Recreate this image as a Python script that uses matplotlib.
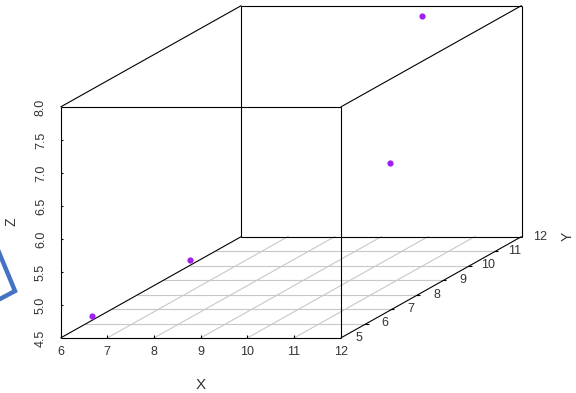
import matplotlib
matplotlib.use('Agg')
import numpy as np
import matplotlib.pyplot as plt
from matplotlib.lines import Line2D

# data
x_vals = [6.0, 6.0, 12.0, 10.0]
y_vals = [6.22, 10.0, 6.91, 11.76]
z_vals = [4.565, 4.58, 6.73, 7.89]

x_ticks = [6, 7, 8, 9, 10, 11, 12]
y_ticks = [5, 6, 7, 8, 9, 10, 11, 12]
z_ticks = [4.5, 5.0, 5.5, 6.0, 6.5, 7.0, 7.5, 8.0]

xmin, xmax = 6, 12
ymin, ymax = 5, 12
zmin, zmax = 4.5, 8.0

W, H = 576, 393
# pixel scale of the front face
px_x = 280.2 / 6
px_z = 231.0 / 3.5
# oblique shift per y unit (in pixels)
dx_y = 181.0 / 7
dz_y = 101.5 / 7


def proj(x, y, z):
    X = x + (y - ymin) * dx_y / px_x
    Z = z + (y - ymin) * dz_y / px_z
    return X, Z


fig = plt.figure(figsize=(W / 100, H / 100), dpi=100)
ax = fig.add_axes([0, 0, 1, 1])
ax.set_xlim(xmin - 60.5 / px_x, xmin + (W - 60.5) / px_x)
ax.set_ylim(zmin - (H - 338) / px_z, zmin + 338 / px_z)
ax.axis('off')

font = ['Liberation Sans Narrow', 'Liberation Sans', 'DejaVu Sans']
col_txt = '#333333'


def seg(p, q, **kw):
    a = proj(*p)
    b = proj(*q)
    ax.plot([a[0], b[0]], [a[1], b[1]], **kw)


box = dict(color='black', lw=0.8, solid_capstyle='butt')
grid = dict(color='#c8c8c8', lw=0.8)

# floor grid
for yy in y_ticks[1:-1]:
    seg((xmin, yy, zmin), (xmax, yy, zmin), **grid)
for xx in x_ticks[1:-1]:
    seg((xx, ymin, zmin), (xx, ymax, zmin), **grid)

# box
seg((xmin, ymin, zmin), (xmax, ymin, zmin), **box)
seg((xmin, ymin, zmax), (xmax, ymin, zmax), **box)
seg((xmin, ymin, zmin), (xmin, ymin, zmax), **box)
seg((xmax, ymin, zmin), (xmax, ymin, zmax), **box)
seg((xmin, ymax, zmin), (xmax, ymax, zmin), **box)
seg((xmin, ymax, zmax), (xmax, ymax, zmax), **box)
seg((xmin, ymax, zmin), (xmin, ymax, zmax), **box)
seg((xmax, ymax, zmin), (xmax, ymax, zmax), **box)
seg((xmin, ymin, zmin), (xmin, ymax, zmin), **box)
seg((xmax, ymin, zmin), (xmax, ymax, zmin), **box)
seg((xmin, ymin, zmax), (xmin, ymax, zmax), **box)
seg((xmax, ymin, zmax), (xmax, ymax, zmax), **box)

# ticks
tk = 3.0
for xx in x_ticks[1:-1]:
    seg((xx, ymin, zmin), (xx, ymin, zmin + tk / px_z), **box)
for zz in z_ticks[1:-1]:
    seg((xmin, ymin, zz), (xmin + tk / px_x, ymin, zz), **box)
for yy in y_ticks[1:-1]:
    seg((xmax - 2 / px_x, yy, zmin), (xmax + 2 / px_x, yy, zmin), **box)

# tick labels
for xx in x_ticks:
    X, Z = proj(xx, ymin, zmin)
    ax.text(X, Z - 14 / px_z, str(xx), ha='center', va='center',
            fontsize=9, color=col_txt, family=font)
for zz in z_ticks:
    X, Z = proj(xmin, ymin, zz)
    ax.text(X - 19.5 / px_x, Z, '%.1f' % zz, ha='center', va='center',
            rotation=90, fontsize=9, color=col_txt, family=font)
for yy in y_ticks:
    X, Z = proj(xmax, yy, zmin)
    ax.text(X + 18.5 / px_x, Z, str(yy), ha='center', va='center',
            fontsize=9, color=col_txt, family=font)

# axis labels
ax.text(proj(9, ymin, zmin)[0], zmin - 47 / px_z, 'X', ha='center', va='center',
        fontsize=11, color=col_txt, family=font)
ax.text(xmin - 48.5 / px_x, zmin + 116 / px_z, 'Z', ha='center', va='center',
        rotation=90, fontsize=10, color=col_txt, family=font)
X, Z = proj(xmax, ymax, zmin)
ax.text(X + 46 / px_x, Z, 'Y', ha='center', va='center',
        rotation=90, fontsize=10, color=col_txt, family=font)

# points
PX, PZ = proj(np.array(x_vals), np.array(y_vals), np.array(z_vals))
ax.plot(PX, PZ, 'o', color='#a020f0', markersize=4.5, markeredgewidth=0)

# blue marker shape at left edge
bx = [-2, 15, -2]
by = [250, 291, 300]
fig.add_artist(Line2D([v / W for v in bx], [1 - v / H for v in by],
                      transform=fig.transFigure, color='#4472c4', lw=3.2,
                      solid_joinstyle='miter'))

fig.savefig('out.png', dpi=100)
